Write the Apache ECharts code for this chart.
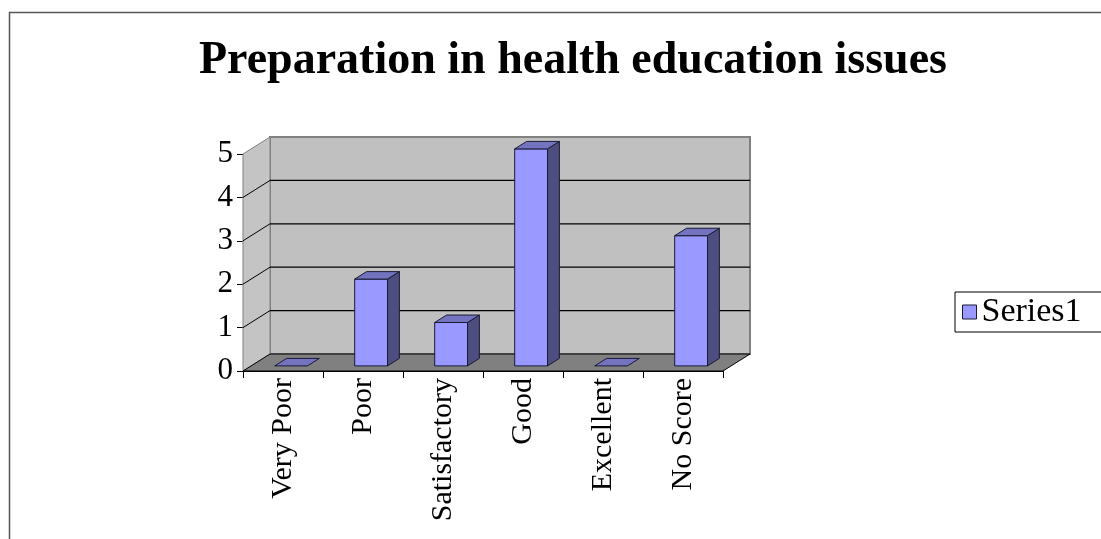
<!DOCTYPE html>
<html>
<head>
<meta charset="utf-8">
<script src="https://cdn.jsdelivr.net/npm/echarts@6/dist/echarts.min.js"></script>
<style>
  html, body { margin: 0; padding: 0; background: #ffffff; }
  #chart { width: 1101px; height: 539px; }
</style>
</head>
<body>
<div id="chart"></div>
<script>
// ---- data ----
const categories = ['Very Poor', 'Poor', 'Satisfactory', 'Good', 'Excellent', 'No Score'];
const series1 = [0, 2, 1, 5, 0, 3];
const yTicks = [0, 1, 2, 3, 4, 5];
const seriesName = 'Series1';
const titleText = 'Preparation in health education issues';

const FONT = "'Liberation Serif', 'Times New Roman', serif";
const yMax = yTicks[yTicks.length - 1];
const DX = 27, DY = -17;          // wall depth offset (px)
const BAR_F0 = 0.30;              // bar front position in depth
const BAR_DEPTH = 0.44;           // bar depth fraction
const BAR_W = 0.41;               // bar width fraction of band

const chart = echarts.init(document.getElementById('chart'), null, { renderer: 'canvas' });

function renderWalls(params, api) {
  const bw = api.size([1, 0])[0];
  const x0 = api.coord([0, 0])[0] - bw / 2;
  const x1 = api.coord([categories.length - 1, 0])[0] + bw / 2;
  const y0 = api.coord([0, 0])[1];
  const yT = api.coord([0, yMax])[1];
  const ch = [];
  ch.push({ type: 'polygon', shape: { points: [[x0 + DX, yT + DY], [x1 + DX, yT + DY], [x1 + DX, y0 + DY], [x0 + DX, y0 + DY]] },
    style: { fill: '#c0c0c0', stroke: '#808080', lineWidth: 2 } });
  ch.push({ type: 'polygon', shape: { points: [[x0, y0], [x0, yT], [x0 + DX, yT + DY], [x0 + DX, y0 + DY]] },
    style: { fill: '#c4c4c4', stroke: '#808080', lineWidth: 1 } });
  for (let k = 1; k < yTicks.length - 1; k++) {
    const y = api.coord([0, yTicks[k]])[1];
    ch.push({ type: 'line', shape: { x1: x0 + DX, y1: y + DY, x2: x1 + DX, y2: y + DY }, style: { stroke: '#000', lineWidth: 1.2 } });
    ch.push({ type: 'line', shape: { x1: x0, y1: y, x2: x0 + DX, y2: y + DY }, style: { stroke: '#000', lineWidth: 1 } });
  }
  ch.push({ type: 'polygon', shape: { points: [[x0, y0], [x1, y0], [x1 + DX, y0 + DY], [x0 + DX, y0 + DY]] },
    style: { fill: '#808080', stroke: '#000', lineWidth: 1 } });
  return { type: 'group', children: ch };
}

function renderBar(params, api) {
  const idx = api.value(0);
  const v = api.value(1);
  const bw = api.size([1, 0])[0];
  const base = api.coord([idx, 0]);
  const topP = api.coord([idx, v]);
  const ox = DX * BAR_F0, oy = DY * BAR_F0;
  const dx = DX * BAR_DEPTH, dy = DY * BAR_DEPTH;
  const w = bw * BAR_W;
  const xl = base[0] + ox - w / 2, xr = base[0] + ox + w / 2;
  const yb = base[1] + oy, yt = topP[1] + oy;
  const ch = [];
  const stroke = '#1a1a33';
  if (yb - yt > 0.5) {
    ch.push({ type: 'polygon', shape: { points: [[xl, yb], [xl, yt], [xr, yt], [xr, yb]] },
      style: { fill: '#9999ff', stroke: stroke, lineWidth: 1 } });
    ch.push({ type: 'polygon', shape: { points: [[xr, yb], [xr, yt], [xr + dx, yt + dy], [xr + dx, yb + dy]] },
      style: { fill: '#4d4d80', stroke: stroke, lineWidth: 1 } });
  }
  ch.push({ type: 'polygon', shape: { points: [[xl, yt], [xl + dx, yt + dy], [xr + dx, yt + dy], [xr, yt]] },
    style: { fill: '#7373bf', stroke: stroke, lineWidth: 1 } });
  return { type: 'group', children: ch };
}

const option = {
  backgroundColor: '#ffffff',
  animation: false,
  title: {
    text: titleText,
    left: 573,
    top: 38,
    padding: 0,
    textAlign: 'center',
    textStyle: { fontFamily: FONT, fontWeight: 'bold', fontSize: 46, color: '#000' }
  },
  legend: {
    data: [seriesName],
    left: 955,
    top: 292,
    orient: 'vertical',
    padding: [3, 40, 3, 7],
    borderColor: '#000',
    borderWidth: 1,
    backgroundColor: '#fff',
    itemWidth: 14,
    itemHeight: 14,
    itemGap: 6,
    icon: 'rect',
    itemStyle: { color: '#9999ff', borderColor: '#1a1a33', borderWidth: 1 },
    textStyle: { fontFamily: FONT, fontSize: 34, color: '#000' }
  },
  grid: { left: 243, right: 378, top: 154, bottom: 168, containLabel: false },
  xAxis: {
    type: 'category',
    data: categories,
    boundaryGap: true,
    axisLine: { show: true, lineStyle: { color: '#000', width: 1 } },
    axisTick: { show: true, length: 7, lineStyle: { color: '#000' }, alignWithLabel: false },
    axisLabel: { rotate: 90, margin: 7, interval: 0, fontFamily: FONT, fontSize: 30, color: '#000' },
    splitLine: { show: false }
  },
  yAxis: {
    type: 'value',
    min: 0,
    max: yMax,
    interval: 1,
    axisLine: { show: true, lineStyle: { color: '#000', width: 1 } },
    axisTick: { show: true, length: 6, lineStyle: { color: '#000' } },
    axisLabel: { margin: 10, fontFamily: FONT, fontSize: 31, color: '#000',
      formatter: function (v) { return yTicks.indexOf(v) >= 0 ? String(v) : ''; } },
    splitLine: { show: false }
  },
  series: [
    {
      name: 'walls',
      type: 'custom',
      renderItem: renderWalls,
      data: [[0, 0]],
      silent: true,
      z: 1
    },
    {
      name: seriesName,
      type: 'custom',
      renderItem: renderBar,
      itemStyle: { color: '#9999ff' },
      data: categories.map(function (c, i) { return [i, series1[i]]; }),
      z: 3
    }
  ],
  graphic: [
    { type: 'polyline', silent: true, z: 100,
      shape: { points: [[9.5, 545], [9.5, 12.5], [1110, 12.5]] },
      style: { fill: null, stroke: '#555', lineWidth: 1.5 } }
  ]
};

chart.setOption(option);
</script>
</body>
</html>
